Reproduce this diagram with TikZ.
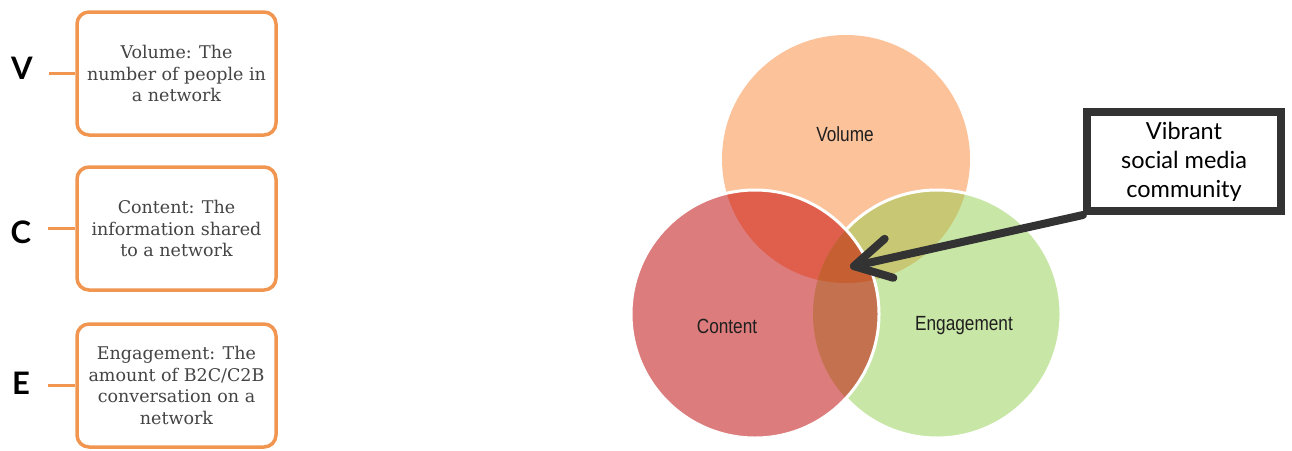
\documentclass[tikz,border=0pt]{standalone}
\usepackage{fontspec}
\setmainfont{DejaVu Serif}
\newfontfamily\labelfont{Lato}
\newfontfamily\vennfont[FakeStretch=0.84]{Liberation Sans}
\usetikzlibrary{arrows.meta,positioning}
\definecolor{boxorange}{RGB}{240,150,80}
\definecolor{deftext}{RGB}{68,68,68}
\definecolor{calloutgray}{RGB}{51,51,51}
\definecolor{volfill}{RGB}{252,194,154}
\definecolor{confill}{RGB}{221,124,124}
\definecolor{engfill}{RGB}{200,230,165}
\definecolor{vcfill}{RGB}{223,95,76}
\definecolor{vefill}{RGB}{200,200,116}
\definecolor{cefill}{RGB}{196,113,79}
\definecolor{allfill}{RGB}{198,96,51}
\newcommand\vennr{124}

\begin{document}
\begin{tikzpicture}[x=1pt, y=-1pt,
    letter/.style={font=\labelfont\bfseries\fontsize{31}{33}\selectfont, minimum width=54pt, inner sep=0pt},
    defbox/.style={draw=boxorange, line width=3.5pt, rounded corners=12pt, fill=white, minimum width=199pt, minimum height=123pt, align=center, text=deftext, font=\fontsize{17.5}{21.5}\selectfont},
    tick/.style={draw=boxorange, line width=3pt},
    venn/.style={font=\vennfont\fontsize{20.5}{24}\selectfont, text=black!88},
    callout/.style={draw=calloutgray, line width=8pt, minimum width=194pt, minimum height=99pt, align=center, font=\labelfont\fontsize{23.5}{29}\selectfont},
    >={Straight Barb[length=36pt,width=40pt,round]}
]
\useasboundingbox (0,0) rectangle (1292,450);

\node[defbox] (bv) at (176.5,73.5) {Volume: The\\number of people in\\a network};
\node[defbox] (bc) at (176.5,228.5) {Content: The\\information shared\\to a network};
\node[defbox] (be) at (176.5,385.5) {Engagement: The\\amount of B2C/C2B\\conversation on a\\network};
\node[letter] (lv) at (22,68) {V};
\node[letter] (lc) at (21,232) {C};
\node[letter] (le) at (21,383) {E};
\draw[tick] (bv.west) -- (bv.west -| lv.east);
\draw[tick] (bc.west) -- (bc.west -| lc.east);
\draw[tick] (be.west) -- (be.west -| le.east);

\coordinate (vc) at (846,159);
\coordinate (cc) at (755,314);
\coordinate (ec) at (937,314);
\fill[volfill] (vc) circle[radius=\vennr];
\fill[engfill] (ec) circle[radius=\vennr];
\begin{scope}
  \clip (vc) circle[radius=\vennr];
  \fill[vefill] (ec) circle[radius=\vennr];
\end{scope}
\draw[white, line width=3pt] (ec) circle[radius=\vennr];
\fill[confill] (cc) circle[radius=\vennr];
\begin{scope}
  \clip (cc) circle[radius=\vennr];
  \fill[vcfill] (vc) circle[radius=\vennr];
  \fill[cefill] (ec) circle[radius=\vennr];
  \clip (vc) circle[radius=\vennr];
  \fill[allfill] (ec) circle[radius=\vennr];
\end{scope}
\draw[white, line width=3pt] (cc) circle[radius=\vennr];

\node[venn] (vollabel) at (845,134) {Volume};
\node[venn] (conlabel) at (727,326) {Content};
\node[venn] (englabel) at (964,326) {Engagement};

\node[callout] (vibrant) at (1184,161.5) {Vibrant\\social media\\community};
\coordinate (core) at (850,267);
\draw[->, calloutgray, line width=8pt, line cap=round] (vibrant.south west) -- (core);
\end{tikzpicture}
\end{document}
